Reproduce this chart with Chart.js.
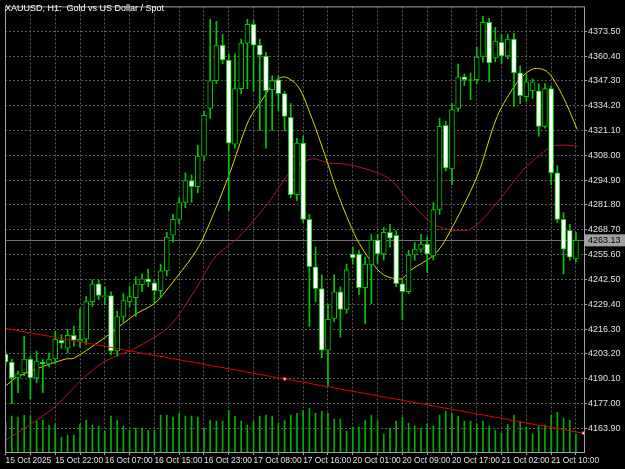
<!DOCTYPE html>
<html><head><meta charset="utf-8">
<script src="https://cdn.jsdelivr.net/npm/chart.js@4"></script>
<style>html,body{margin:0;padding:0;background:#000}#c{display:block}</style>
</head><body><div style="width:625px;height:469px"><canvas id="c"></canvas></div>
<script>
const open=[4203.1,4198.9,4190.5,4193.2,4200.5,4190.5,4198.9,4197.9,4200.5,4210.4,4206.2,4213.0,4209.9,4210.9,4230.8,4240.2,4233.4,4234.0,4204.7,4222.9,4230.8,4232.9,4239.7,4242.8,4240.7,4236.5,4247.0,4265.8,4274.2,4283.1,4294.6,4291.4,4307.6,4332.7,4347.4,4366.2,4358.3,4313.9,4343.2,4367.2,4377.1,4366.2,4360.4,4342.6,4347.9,4340.6,4328.0,4287.2,4314.4,4274.2,4249.1,4237.6,4205.2,4221.9,4236.0,4226.6,4255.9,4255.9,4238.1,4250.1,4263.2,4255.9,4267.4,4265.8,4240.2,4236.0,4255.4,4258.5,4261.1,4254.9,4279.4,4323.8,4300.8,4332.7,4349.4,4347.9,4347.9,4359.9,4378.2,4359.4,4367.7,4360.4,4369.3,4351.5,4339.0,4342.1,4342.1,4323.3,4343.2,4298.7,4274.2,4268.4,4253.3];
const high=[4204.7,4200.5,4194.2,4212.5,4202.0,4204.7,4200.5,4203.6,4215.1,4213.5,4216.2,4217.7,4227.1,4233.4,4242.3,4242.3,4238.6,4236.0,4225.6,4235.0,4238.6,4243.9,4245.4,4248.0,4242.3,4250.6,4267.4,4276.8,4285.7,4298.7,4297.7,4313.4,4331.2,4379.8,4378.7,4371.9,4361.5,4361.5,4369.3,4379.8,4379.2,4369.3,4362.5,4350.0,4350.0,4341.6,4335.3,4317.0,4318.1,4276.8,4259.5,4244.9,4229.2,4244.9,4238.6,4250.6,4259.5,4258.0,4254.3,4266.3,4266.3,4270.0,4271.6,4268.4,4242.3,4258.0,4262.1,4266.3,4264.8,4283.1,4327.5,4325.9,4335.3,4356.2,4351.0,4351.5,4365.1,4381.3,4380.3,4375.6,4371.9,4371.9,4372.4,4355.2,4351.0,4348.4,4345.8,4345.8,4344.7,4302.4,4277.8,4271.6,4267.4];
const low=[4196.8,4176.9,4182.7,4191.6,4179.6,4187.9,4182.7,4196.3,4197.9,4206.2,4203.6,4207.3,4206.7,4208.3,4228.2,4231.8,4229.2,4202.6,4202.0,4219.8,4228.2,4222.9,4236.0,4238.6,4229.7,4232.9,4244.4,4262.1,4271.6,4280.4,4283.1,4288.3,4305.0,4327.5,4345.8,4356.2,4278.9,4311.8,4340.6,4343.2,4342.1,4321.2,4311.8,4321.2,4331.7,4320.7,4285.7,4284.1,4272.6,4217.7,4230.8,4201.0,4186.4,4220.3,4212.0,4224.5,4250.6,4234.4,4219.3,4229.7,4250.6,4252.7,4259.5,4238.6,4221.4,4235.0,4252.7,4256.9,4246.0,4252.7,4276.8,4299.8,4292.5,4331.2,4344.7,4337.4,4345.8,4357.3,4346.8,4357.3,4356.2,4358.9,4333.8,4335.3,4336.4,4338.0,4318.1,4322.3,4292.5,4272.6,4245.4,4252.7,4251.7];
const close=[4198.9,4190.5,4192.6,4200.5,4190.5,4199.4,4197.9,4200.5,4210.9,4208.8,4213.0,4210.4,4210.9,4230.8,4240.2,4234.0,4233.9,4204.7,4222.9,4231.3,4233.4,4240.2,4242.8,4241.2,4236.5,4247.0,4264.8,4274.2,4283.1,4294.6,4291.4,4307.6,4329.1,4347.4,4366.2,4358.3,4314.4,4343.2,4367.2,4377.1,4366.2,4360.9,4342.1,4347.4,4340.6,4328.5,4287.2,4314.4,4274.2,4249.2,4237.6,4205.2,4221.4,4236.0,4226.6,4247.5,4253.8,4238.1,4250.6,4263.2,4255.9,4267.4,4264.2,4240.2,4236.0,4255.4,4258.5,4261.1,4255.9,4279.4,4323.3,4301.3,4332.2,4349.4,4347.9,4347.6,4359.9,4378.2,4356.8,4368.3,4360.4,4369.3,4351.5,4339.5,4346.8,4346.8,4323.3,4343.2,4298.7,4274.2,4258.5,4254.3,4263.13];
const volume=[30,36,35,37,36,31,32,27,28,15,17,17,28,32,27,26,21,36,32,26,22,24,24,22,22,37,37,35,39,36,36,35,24,32,31,31,42,36,31,27,31,36,37,36,29,32,37,39,42,44,39,41,39,33,33,21,25,25,32,37,31,18,24,31,35,29,26,24,28,26,37,41,39,36,31,31,28,31,26,22,19,28,37,31,25,18,26,27,37,40,34,32,18];
const maFastX=[0.05,1.65,4.9,9.7,11.1,16.7,20.9,24.0,26.4,30.4,32.0,36.0,39.2,41.3,43.4,45.0,47.2,49.3,51.4,53.7,56.5,59.0,61.0,63.8,65.4,69.1,71.2,76.1,79.3,82.6,85.1,87.4,89.9,92.2];
const maFast=[4186.4,4190.5,4195.2,4200.5,4201.0,4213.5,4224.0,4229.7,4238.6,4255.9,4265.3,4297.2,4326.4,4336.9,4346.8,4349.4,4344.2,4328.5,4309.2,4286.7,4264.8,4251.7,4244.9,4242.8,4247.5,4255.4,4264.8,4297.2,4328.5,4346.8,4353.6,4352.1,4339.0,4321.7];
const maSlowX=[0.05,7.6,12.4,16.1,20.9,26.4,30.6,33.8,37.6,42.4,46.1,49.3,52.1,55.7,61.7,64.9,68.6,71.3,75.0,79.3,83.5,87.9,89.9,92.2];
const maSlow=[4157.6,4174.3,4190.0,4199.4,4206.2,4217.7,4237.1,4254.3,4264.8,4283.1,4299.8,4306.1,4304.0,4302.9,4296.1,4284.6,4272.6,4269.0,4269.0,4283.1,4300.3,4312.4,4313.4,4312.9];
const trendX=[-0.1,45,93.2];
const trendY=[4216.7,4190.0,4161.3];
const yTicks=[4163.90,4177.00,4190.10,4203.20,4216.30,4229.40,4242.50,4255.60,4268.70,4281.80,4294.90,4308.00,4321.10,4334.20,4347.30,4360.40,4373.50];
const xLabels={0:'15 Oct 2025',8:'15 Oct 22:00',16:'16 Oct 07:00',24:'16 Oct 15:00',32:'16 Oct 23:00',40:'17 Oct 08:00',48:'17 Oct 16:00',56:'20 Oct 01:00',64:'20 Oct 09:00',72:'20 Oct 17:00',80:'21 Oct 02:00',88:'21 Oct 10:00'};
const title='XAUUSD, H1:  Gold vs US Dollar / Spot';

const G='#00c800';
const idx=close.map((_,i)=>i);
const bull=[],bear=[];
idx.forEach(i=>{(close[i]>=open[i]?bull:bear).push({x:i,y:[open[i],close[i]]});});
const wicks=idx.map(i=>({x:i,y:[low[i],high[i]]}));
const vols=idx.map(i=>({x:i,y:volume[i]}));
const last=close[close.length-1];

const deco={id:'deco',
 beforeDatasetsDraw(ch){const c=ch.ctx,a=ch.chartArea,y=ch.scales.y.getPixelForValue(last);
  c.save();c.strokeStyle='#707070';c.lineWidth=1;c.beginPath();c.moveTo(a.left,Math.round(y)+0.5);c.lineTo(a.right,Math.round(y)+0.5);c.stroke();c.restore();},
 afterDraw(ch){const c=ch.ctx,a=ch.chartArea;c.save();
  c.strokeStyle='#a0a0a0';c.lineWidth=1;c.strokeRect(a.left+0.5,a.top+0.5,a.right-a.left,a.bottom-a.top);
  c.font='9px "Liberation Sans", Arial';c.fillStyle='#ffffff';c.textBaseline='top';c.fillText(title,5,4);
  const y=ch.scales.y.getPixelForValue(last);
  c.fillStyle='#a0a0a0';c.fillRect(a.right+1,y-6,40,12);
  c.fillStyle='#000';c.textBaseline='middle';c.font='9px "Liberation Sans"';c.fillText(last.toFixed(2),a.right+4,y+0.5);
  c.restore();}};

new Chart(document.getElementById('c'),{
 data:{datasets:[
  {type:'bar',data:vols,yAxisID:'v',backgroundColor:'#00b000',barThickness:1,grouped:false,order:10},
  {type:'line',data:maSlowX.map((x,i)=>({x,y:maSlow[i]})),borderColor:'#b0182a',borderWidth:1,pointRadius:0,tension:0.3,order:8},
  {type:'line',data:maFastX.map((x,i)=>({x,y:maFast[i]})),borderColor:'#d8d800',borderWidth:1,pointRadius:0,tension:0.3,order:7},
  {type:'bar',data:wicks,backgroundColor:G,barThickness:1,grouped:false,order:6},
  {type:'bar',data:bull,backgroundColor:'#000',borderColor:G,borderWidth:1,borderSkipped:false,barThickness:5,grouped:false,order:5},
  {type:'bar',data:bear,backgroundColor:'#ffffff',borderColor:G,borderWidth:1,borderSkipped:false,barThickness:5,grouped:false,order:4},
  {type:'line',data:trendX.map((x,i)=>({x,y:trendY[i]})),borderColor:'#e00000',borderWidth:1,pointRadius:[0,2,2],pointStyle:'rect',pointBackgroundColor:'#fff',pointBorderColor:'#e00000',order:1}
 ]},
 options:{responsive:true,maintainAspectRatio:false,animation:false,
  layout:{padding:{left:2,top:2,right:0,bottom:0}},
  plugins:{legend:{display:false},tooltip:{enabled:false}},
  scales:{
   x:{type:'linear',offset:false,min:-0.1,max:93.3,
    afterBuildTicks(s){s.ticks=[];for(let i=0;i<=92;i+=4)s.ticks.push({value:i});},
    afterFit(s){s.height=17;},
    grid:{color:'#5a5a5a',offset:false,drawTicks:true,tickLength:3,tickColor:'#a0a0a0'},border:{display:false,dash:[2,2]},
    ticks:{color:'#e0e0e0',font:{family:'Liberation Sans',size:8.4},maxRotation:0,autoSkip:false,align:'start',padding:1,callback:v=>xLabels[v]||''}},
   y:{position:'right',min:4151.4,max:4386.6,
    afterBuildTicks(s){s.ticks=yTicks.map(v=>({value:v}));},
    afterFit(s){s.width=41;},
    grid:{color:'#5a5a5a',tickLength:3,tickColor:'#a0a0a0'},border:{display:false,dash:[2,2]},
    ticks:{color:'#e0e0e0',font:{family:'Liberation Sans',size:9},padding:1,callback:v=>v.toFixed(2)}},
   v:{display:false,min:0,max:448}
  }},
 plugins:[deco]
});
</script></body></html>
